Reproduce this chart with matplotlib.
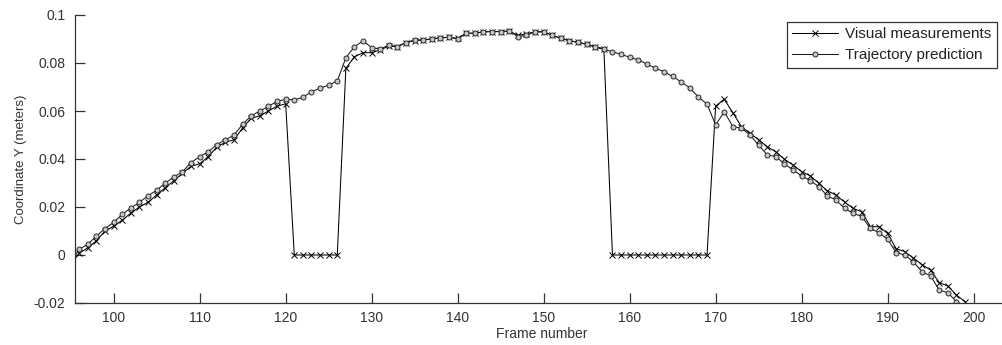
import numpy as np
import matplotlib
matplotlib.use("Agg")
import matplotlib.pyplot as plt

plt.rcParams['font.family'] = ['Liberation Sans', 'DejaVu Sans']

frames = list(range(95, 200))

visual = [
    -0.004, 0.0008, 0.003, 0.006, 0.010, 0.012, 0.0145, 0.0175, 0.020, 0.022,   # 95-104
    0.025, 0.028, 0.031, 0.034, 0.037, 0.038, 0.041, 0.045, 0.047, 0.048,        # 105-114
    0.053, 0.057, 0.058, 0.060, 0.062, 0.063, 0.0, 0.0, 0.0, 0.0,                # 115-124
    0.0, 0.0, 0.0778, 0.0826, 0.0843, 0.0843, 0.0855, 0.087, 0.0868, 0.0885,     # 125-134
    0.0893, 0.0896, 0.090, 0.0905, 0.0907, 0.0903, 0.0924, 0.0924, 0.093, 0.0931,  # 135-144
    0.0931, 0.0933, 0.0915, 0.0922, 0.093, 0.093, 0.0915, 0.0903, 0.0893, 0.0886,  # 145-154
    0.0878, 0.0868, 0.0860, 0.0, 0.0, 0.0, 0.0, 0.0, 0.0, 0.0,                     # 155-164
    0.0, 0.0, 0.0, 0.0, 0.0, 0.062, 0.0649, 0.0593, 0.0535, 0.0507,                # 165-174
    0.048, 0.0451, 0.043, 0.0399, 0.0375, 0.0347, 0.033, 0.0299, 0.0267, 0.025,    # 175-184
    0.022, 0.0194, 0.018, 0.0118, 0.0118, 0.009, 0.0026, 0.0014, -0.0013, -0.004,  # 185-194
    -0.0063, -0.0115, -0.0129, -0.0167, -0.0194,                                   # 195-199
]

predicted = [
    -0.003, 0.0024, 0.0045, 0.008, 0.011, 0.0136, 0.017, 0.0196, 0.022, 0.0247,   # 95-104
    0.027, 0.030, 0.0325, 0.0347, 0.0385, 0.041, 0.043, 0.046, 0.048, 0.050,       # 105-114
    0.0545, 0.058, 0.060, 0.062, 0.064, 0.0649, 0.0646, 0.0657, 0.068, 0.0695,     # 115-124
    0.0708, 0.0725, 0.0822, 0.0868, 0.0892, 0.0864, 0.0858, 0.0875, 0.0868, 0.0885,  # 125-134
    0.0896, 0.0896, 0.090, 0.0905, 0.0907, 0.090, 0.0924, 0.0924, 0.093, 0.0931,   # 135-144
    0.0931, 0.0933, 0.091, 0.0915, 0.093, 0.093, 0.0915, 0.0903, 0.0893, 0.0886,   # 145-154
    0.0878, 0.0865, 0.0857, 0.0847, 0.0836, 0.0824, 0.0813, 0.0796, 0.0778, 0.0764,  # 155-164
    0.0744, 0.0721, 0.0696, 0.0658, 0.0629, 0.0542, 0.0597, 0.0535, 0.0528, 0.050,   # 165-174
    0.0458, 0.0417, 0.041, 0.038, 0.0354, 0.033, 0.031, 0.0285, 0.0246, 0.0229,    # 175-184
    0.0194, 0.0174, 0.016, 0.0111, 0.0093, 0.0065, 0.001, 0.0, -0.0028, -0.007,    # 185-194
    -0.0087, -0.0146, -0.0157, -0.0194, -0.0215,                                   # 195-199
]

xticks = [100, 110, 120, 130, 140, 150, 160, 170, 180, 190, 200]
yticks = [-0.02, 0, 0.02, 0.04, 0.06, 0.08, 0.1]
ytick_labels = ['-0.02', '0', '0.02', '0.04', '0.06', '0.08', '0.1']

fig = plt.figure(figsize=(10.03, 3.45), dpi=100)
ax = fig.add_axes([75 / 1003, 42 / 345, 933 / 1003, 288 / 345])

ax.plot(frames, visual, color='black', lw=0.75, marker='x', ms=4, mew=0.7,
        label='Visual measurements')
ax.plot(frames, predicted, color='#1a1a1a', lw=0.75, marker='o', ms=3.6, mew=0.7,
        mfc='#c8c8c8', mec='#2a2a2a', label='Trajectory prediction')

ax.set_xlim(95.5, 204)
ax.set_ylim(-0.02, 0.1)
ax.set_xticks(xticks)
ax.set_yticks(yticks)
ax.set_yticklabels(ytick_labels)
ax.spines['top'].set_visible(False)
ax.spines['right'].set_visible(False)
for s in ('left', 'bottom'):
    ax.spines[s].set_color('#333333')
    ax.spines[s].set_linewidth(0.9)
ax.tick_params(direction='in', length=7, width=0.9, colors='#333333',
               labelsize=10, labelcolor='#333333')
ax.tick_params(axis='x', pad=6)
ax.tick_params(axis='y', pad=7)

ax.set_xlabel('Frame number', fontsize=10, color='#333333', labelpad=1)
ax.set_ylabel('Coordinate Y (meters)', fontsize=9.5, color='#333333', labelpad=5)

leg = fig.legend(loc='upper left', bbox_to_anchor=(787 / 1003, 1 - 22 / 345),
                 frameon=True, fancybox=False, fontsize=11, handlelength=3.0,
                 handletextpad=0.45, borderpad=0.35, labelspacing=0.45,
                 borderaxespad=0)
leg.get_frame().set_edgecolor('black')
leg.get_frame().set_linewidth(0.9)
for t in leg.get_texts():
    t.set_color('#222222')

fig.savefig('out.png', dpi=100)
